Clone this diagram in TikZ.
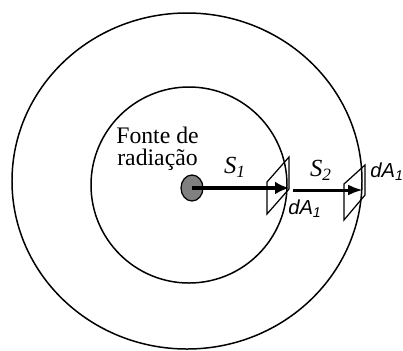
\documentclass[tikz,border=0pt]{standalone}
\usepackage{amsmath}
\usepackage{fontspec}
\setmainfont{Liberation Serif}
\newfontfamily\arialfont{Liberation Sans}
\usetikzlibrary{positioning,arrows.meta,shapes.geometric}
\tikzset{
  shell/.style={draw, line width=0.85pt},
  sourcedot/.style={draw, ellipse, fill=gray, line width=0.7pt, minimum width=0.44cm, minimum height=0.52cm, inner sep=0pt},
  patch/.style={draw, line width=0.7pt, line join=miter},
  ray/.style={-{Latex[length=2.8mm, width=2.6mm]}, line width=2.8pt},
  raythin/.style={-{Latex[length=3mm, width=2.2mm]}, line width=1.7pt},
  dist/.style={font=\fontsize{14}{16}\selectfont, inner sep=0pt},
  area/.style={font=\arialfont\itshape\fontsize{11.5}{13}\selectfont, inner sep=0pt},
  srclabel/.style={align=center, inner sep=0pt, font=\fontsize{13.5}{12.5}\selectfont}
}
\begin{document}
\begin{tikzpicture}[>=Latex]
  \useasboundingbox (-3.84,-3.24) rectangle (4.22,3.76);
  % spheres around the source
  \draw[shell] (-0.10,0.14) ellipse (3.5 and 3.36);
  \draw[shell] (-0.06,0.06) circle (1.96);
  \node[sourcedot] (src) at (0,0) {};
  \node[srclabel] (fonte) at (-0.69,0.79) {Fonte de\\radiação};
  % area elements
  \draw[patch] (1.50,0.12) -- (1.94,0.62) -- (1.94,-0.02) -- (1.50,-0.52) -- cycle;
  \draw[patch] (3.04,0.08) -- (3.46,0.46) -- (3.46,-0.14) -- (3.04,-0.64) -- cycle;
  \coordinate (tip1) at (1.94,0);
  \coordinate (start2) at (2.02,-0.04);
  \coordinate (tip2) at (3.42,-0.04);
  \draw[ray] (src.center) -- (tip1);
  \draw[raythin] (start2) -- (tip2);
  \node[dist] (s1) at (0.86,0.42) {$\text{\itshape S}_{\text{\itshape 1}}$};
  \node[dist] (s2) at (2.58,0.36) {$\text{\itshape S}_{\text{\itshape 2}}$};
  \node[area] (da1) at (2.26,-0.42) {dA$_{\text{\arialfont\itshape 1}}$};
  \node[area, anchor=west] (da2) at (3.56,0.32) {dA$_{\text{\arialfont\itshape 1}}$};
\end{tikzpicture}
\end{document}
